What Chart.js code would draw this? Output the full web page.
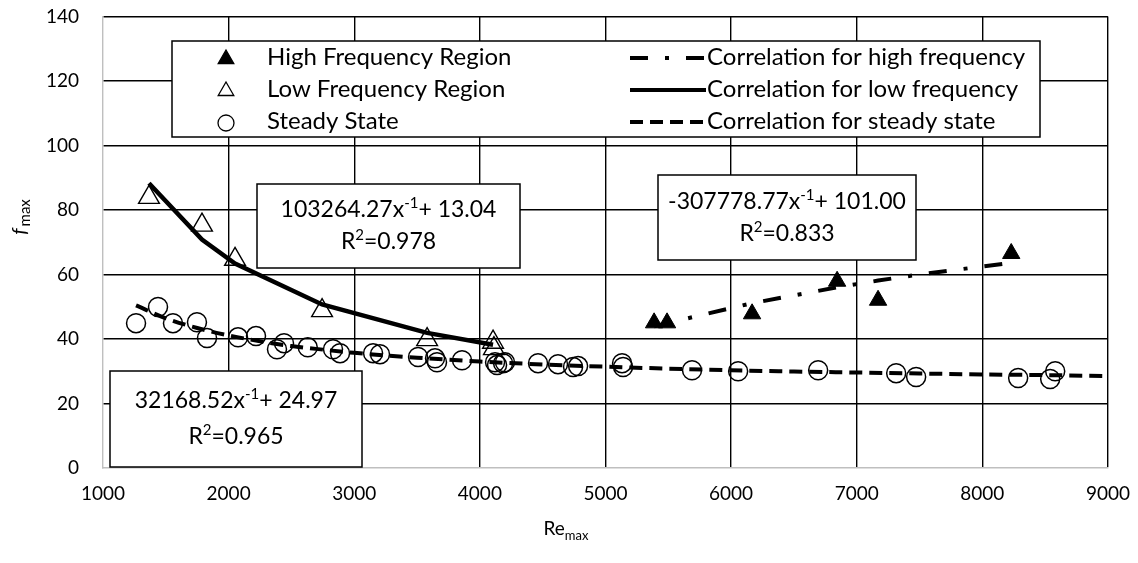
<!DOCTYPE html>
<html><head><meta charset="utf-8">
<script src="https://cdn.jsdelivr.net/npm/chart.js@4/dist/chart.umd.min.js"></script>
<style>html,body{margin:0;padding:0;background:#fff;overflow:hidden}#wrap{width:1138px;height:563px;position:relative;overflow:hidden}#c{position:absolute;left:0;top:-19px}</style>
</head><body><div id="wrap"><canvas id="c" width="1144" height="582" style="width:1144px;height:582px"></canvas></div>
<script>
const FONT = 'Lato, "Open Sans", sans-serif';
const OFFY = 19;
const xTicks = [1000,2000,3000,4000,5000,6000,7000,8000,9000];
const yTicks = [0,20,40,60,80,100,120,140];

const highRe = [5387,5490,6167,6844,7170,8230];
const highF  = [45.0,45.0,47.8,57.9,52.0,66.5];
const lowRe  = [1366,1788,2051,2744,3580,4105,4112];
const lowF   = [83.9,75.3,64.7,48.8,39.8,39.0,37.0];
const steadyRe = [1263,1438,1557,1748,1828,2075,2218,2385,2441,2630,2831,2887,3150,3205,3508,3643,3659,3858,4121,4137,4185,4200,4463,4622,4742,4782,5132,5140,5689,6056,6693,7314,7473,8285,8540,8580];
const steadyF  = [44.9,49.9,44.9,45.2,40.3,40.5,40.9,36.8,38.7,37.4,36.8,35.6,35.6,35.3,34.4,34.0,32.8,33.4,32.8,31.9,32.5,32.8,32.5,32.2,31.3,31.6,32.5,31.3,30.3,30.0,30.3,29.4,28.2,27.9,27.6,30.0];

const corrHighRe = [5387,5490,6167,6844,7170,7500,8230];
const corrHighF  = [43.9,44.9,51.1,56.0,58.1,60.0,63.6];
const corrLowRe  = [1366,1788,2051,2744,3580,4105];
const corrLowF   = [88.3,70.8,63.4,50.7,41.9,38.2];
const corrSteadyRe = [1263,1500,1750,2000,2250,2500,2750,3000,3500,4000,4500,5000,5500,6000,6500,7000,7500,8000,8500,9000];
const corrSteadyF  = [50.4,46.4,43.4,41.1,39.3,37.8,36.7,35.7,34.2,33.0,32.1,31.4,30.8,30.3,29.9,29.6,29.3,29.0,28.8,28.5];

const legendLabels = ['High Frequency Region','Low Frequency Region','Steady State',
  'Correlation for high frequency','Correlation for low frequency','Correlation for steady state'];
const eqTexts = [
  {c:'103264.27', k:'+ 13.04', r:'0.978', box:[257,184,520,268]},
  {c:'32168.52', k:'+ 24.97', r:'0.965', box:[110,371,362,467]},
  {c:'-307778.77', k:'+ 101.00', r:'0.833', box:[658,175,916,260]}
];

const pts = (xs, ys) => xs.map((x,i)=>({x, y: ys[i]}));
const DASH_HIGH = [18,17,4,17];
const DASH_STEADY = [13,7];

function rich(ctx, parts, cx, y, size){
  const fonts=parts.map(p=>p[1]===0?size+'px '+FONT:Math.round(size*0.66)+'px '+FONT);
  let w=0; const ws=parts.map((p,i)=>{ctx.font=fonts[i]; const m=ctx.measureText(p[0]).width; w+=m; return m;});
  let x=cx-w/2; ctx.textAlign='left'; ctx.textBaseline='alphabetic'; ctx.fillStyle='#000';
  parts.forEach((p,i)=>{ctx.font=fonts[i]; const dy=p[1]===1?-size*0.38:(p[1]===2?size*0.26:0); ctx.fillText(p[0],x,y+dy); x+=ws[i];});
}

const overlay = {
  id:'overlay',
  beforeDraw(chart){
    const ctx=chart.ctx; ctx.save(); ctx.fillStyle='#fff'; ctx.fillRect(0,0,chart.width,chart.height); ctx.restore();
  },
  afterDraw(chart){
    const ctx = chart.ctx;
    ctx.save();
    ctx.translate(0, OFFY);
    eqTexts.forEach(e=>{
      const [x0,y0,x1,y1]=e.box;
      ctx.fillStyle='#fff'; ctx.fillRect(x0,y0,x1-x0,y1-y0);
      ctx.strokeStyle='#000'; ctx.lineWidth=1.5; ctx.strokeRect(x0,y0,x1-x0,y1-y0);
      const cx=(x0+x1)/2, h=y1-y0;
      const l1=y0+h*0.30+8, l2=y0+h*0.70+6;
      rich(ctx,[[e.c,0],['x',0],['-1',1],[e.k,0]],cx,l1,23);
      rich(ctx,[['R',0],['2',1],['='+e.r,0]],cx,l2,23);
    });
    const L=[172,41,1040,137];
    ctx.fillStyle='#fff'; ctx.fillRect(L[0],L[1],L[2]-L[0],L[3]-L[1]);
    ctx.strokeStyle='#000'; ctx.lineWidth=1.5; ctx.strokeRect(L[0],L[1],L[2]-L[0],L[3]-L[1]);
    const rows=[57,89,121];
    const ds=chart.data.datasets;
    for(let i=0;i<3;i++){
      const d=ds[i];
      ctx.fillStyle=d.backgroundColor; ctx.strokeStyle='#000'; ctx.lineWidth=1.3; ctx.setLineDash([]);
      Chart.helpers.drawPoint(ctx,{pointStyle:d.pointStyle,radius:i===2?8:9,borderWidth:1.3},226,rows[i]+2);
      ctx.font='24px '+FONT; ctx.fillStyle='#000'; ctx.textBaseline='middle'; ctx.textAlign='left';
      ctx.fillText(legendLabels[i],267,rows[i]);
    }
    for(let i=0;i<3;i++){
      const d=ds[3+i];
      ctx.beginPath(); ctx.setLineDash(d.borderDash||[]); ctx.lineWidth=4; ctx.strokeStyle='#000';
      ctx.moveTo(630,rows[i]+1); ctx.lineTo(706,rows[i]+1); ctx.stroke(); ctx.setLineDash([]);
      ctx.font='24px '+FONT; ctx.fillStyle='#000'; ctx.textBaseline='middle'; ctx.textAlign='left';
      ctx.fillText(legendLabels[3+i],707,rows[i]);
    }
    ctx.save(); ctx.translate(20,218); ctx.rotate(-Math.PI/2);
    ctx.textAlign='left'; ctx.textBaseline='alphabetic'; ctx.fillStyle='#000';
    ctx.font='italic 20px '+FONT; const wf=ctx.measureText('f').width;
    ctx.font='15px '+FONT; const wm=ctx.measureText('max').width;
    const sx=-(wf+wm)/2;
    ctx.font='italic 20px '+FONT; ctx.fillText('f',sx,6);
    ctx.font='15px '+FONT; ctx.fillText('max',sx+wf+2,10);
    ctx.restore();
    rich(ctx,[['Re',0],['max',2]],566,535,19);
    ctx.restore();
  }
};

new Chart(document.getElementById('c'),{
  type:'scatter',
  data:{datasets:[
    {label:legendLabels[0],data:pts(highRe,highF),pointStyle:'triangle',pointRadius:10,backgroundColor:'#000',borderColor:'#000',borderWidth:1,showLine:false,order:2},
    {label:legendLabels[1],data:pts(lowRe,lowF),pointStyle:'triangle',pointRadius:12,backgroundColor:'rgba(0,0,0,0)',borderColor:'#000',borderWidth:1.4,showLine:false,order:2},
    {label:legendLabels[2],data:pts(steadyRe,steadyF),pointStyle:'circle',pointRadius:9.5,backgroundColor:'rgba(0,0,0,0)',borderColor:'#000',borderWidth:1.5,showLine:false,order:2},
    {label:legendLabels[3],data:pts(corrHighRe,corrHighF),showLine:true,pointRadius:0,borderColor:'#000',borderWidth:4,borderDash:DASH_HIGH,tension:0,order:1},
    {label:legendLabels[4],data:pts(corrLowRe,corrLowF),showLine:true,pointRadius:0,borderColor:'#000',borderWidth:4.5,tension:0,order:1},
    {label:legendLabels[5],data:pts(corrSteadyRe,corrSteadyF),showLine:true,pointRadius:0,borderColor:'#000',borderWidth:4,borderDash:DASH_STEADY,cubicInterpolationMode:'monotone',order:1}
  ]},
  options:{
    responsive:false, animation:false, devicePixelRatio:1,
    layout:{padding:{left:0,top:0,right:24,bottom:0}},
    plugins:{legend:{display:false},tooltip:{enabled:false}},
    scales:{
      x:{type:'linear',min:1000,max:9000,
        afterBuildTicks(s){s.ticks=xTicks.map(v=>({value:v}));},
        afterFit(s){s.height=95;},
        grid:{color:c=>c.index===0?'rgba(0,0,0,0)':'#000',lineWidth:1.4,drawTicks:false},
        border:{color:'#bfbfbf',width:1.4},
        ticks:{padding:14,color:'#000',font:{family:FONT,size:19},maxRotation:0,callback:v=>String(v)}},
      y:{min:0,max:140,
        afterBuildTicks(s){s.ticks=yTicks.map(v=>({value:v}));},
        afterFit(s){s.width=103;},
        grid:{color:c=>c.index===0?'rgba(0,0,0,0)':'#000',lineWidth:1.4,drawTicks:false},
        border:{color:'#bfbfbf',width:1.4},
        ticks:{padding:24,color:'#000',font:{family:FONT,size:19},callback:v=>String(v)}}
    }
  },
  plugins:[overlay]
});
</script></body></html>
